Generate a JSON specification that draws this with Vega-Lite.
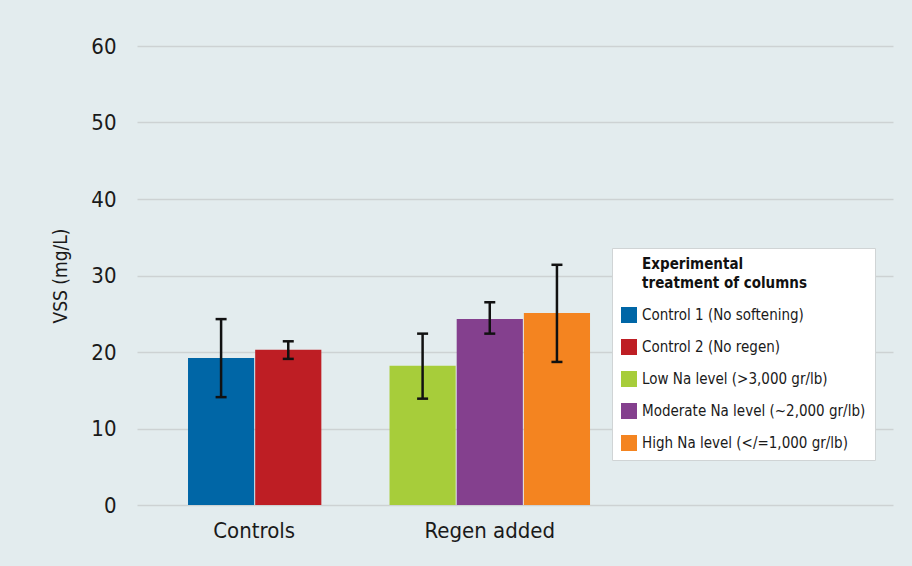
{
  "$schema": "https://vega.github.io/schema/vega-lite/v6.json",
  "width": 756,
  "height": 459,
  "autosize": {"type": "none"},
  "padding": {"left": 137, "top": 46, "right": 19, "bottom": 61},
  "background": "#e3ecee",
  "config": {
    "font": "Liberation Sans Narrow, DejaVu Sans Condensed, Roboto",
    "view": {"stroke": null}
  },
  "datasets": {
    "bars": [
      {"treatment": "Control 1 (No softening)", "group": "Controls", "vss": 19.2, "lo": 14.1, "hi": 24.3},
      {"treatment": "Control 2 (No regen)", "group": "Controls", "vss": 20.3, "lo": 19.1, "hi": 21.4},
      {"treatment": "Low Na level (>3,000 gr/lb)", "group": "Regen added", "vss": 18.2, "lo": 13.9, "hi": 22.4},
      {"treatment": "Moderate Na level (~2,000 gr/lb)", "group": "Regen added", "vss": 24.3, "lo": 22.4, "hi": 26.5},
      {"treatment": "High Na level (</=1,000 gr/lb)", "group": "Regen added", "vss": 25.1, "lo": 18.7, "hi": 31.4}
    ]
  },
  "layer": [
    {
      "data": {"name": "bars"},
      "mark": {"type": "bar"},
      "encoding": {
        "x": {
          "field": "treatment", "type": "nominal",
          "scale": {
            "domain": ["Control 1 (No softening)", "Control 2 (No regen)", "gap", "Low Na level (>3,000 gr/lb)", "Moderate Na level (~2,000 gr/lb)", "High Na level (</=1,000 gr/lb)", "e1", "e2", "e3", "e4"],
            "paddingInner": 0.015, "paddingOuter": 0.635, "align": 0.598
          },
          "axis": null
        },
        "y": {
          "field": "vss", "type": "quantitative",
          "scale": {"domain": [0, 60]},
          "axis": {
            "values": [0, 10, 20, 30, 40, 50, 60],
            "grid": true, "gridColor": "#cdd2d3", "gridWidth": 1.5,
            "domain": false, "ticks": false,
            "labelPadding": 21, "labelFontSize": 22, "labelColor": "#1a1a1a",
            "title": "VSS (mg/L)", "titleFontSize": 19, "titleFontWeight": "normal",
            "titleColor": "#1a1a1a", "titlePadding": 20
          }
        },
        "color": {
          "field": "treatment", "type": "nominal",
          "scale": {
            "domain": ["Control 1 (No softening)", "Control 2 (No regen)", "Low Na level (>3,000 gr/lb)", "Moderate Na level (~2,000 gr/lb)", "High Na level (</=1,000 gr/lb)"],
            "range": ["#0066a6", "#be1e24", "#a7cd3a", "#84408e", "#f48420"]
          },
          "legend": {
            "title": ["\u2800\u2800Experimental", "\u2800\u2800treatment of columns"],
            "orient": "none", "legendX": 475, "legendY": 202,
            "padding": 9, "fillColor": "white", "strokeColor": "#d0d4d5",
            "symbolType": "square", "symbolSize": 256, "symbolStrokeWidth": 0, "symbolOpacity": 1,
            "rowPadding": 16, "titlePadding": 16, "labelOffset": 5,
            "titleFontSize": 15, "titleFontWeight": "bold", "titleLineHeight": 19, "titleColor": "#111111",
            "labelFontSize": 15, "labelColor": "#1a1a1a", "labelLimit": 400, "titleLimit": 400
          }
        }
      }
    },
    {
      "data": {"name": "bars"},
      "mark": {"type": "rule", "color": "#111111", "strokeWidth": 2.5},
      "encoding": {
        "x": {"field": "treatment", "type": "nominal"},
        "y": {"field": "lo", "type": "quantitative"},
        "y2": {"field": "hi"}
      }
    },
    {
      "data": {"name": "bars"},
      "mark": {"type": "tick", "color": "#111111", "thickness": 2.5, "size": 11, "opacity": 1},
      "encoding": {
        "x": {"field": "treatment", "type": "nominal"},
        "y": {"field": "lo", "type": "quantitative"}
      }
    },
    {
      "data": {"name": "bars"},
      "mark": {"type": "tick", "color": "#111111", "thickness": 2.5, "size": 11, "opacity": 1},
      "encoding": {
        "x": {"field": "treatment", "type": "nominal"},
        "y": {"field": "hi", "type": "quantitative"}
      }
    },
    {
      "data": {"values": [{"label": "Controls", "slot": "Control 1 (No softening)"}]},
      "mark": {"type": "text", "fontSize": 22, "color": "#1a1a1a", "baseline": "middle", "dy": 26},
      "encoding": {
        "x": {"field": "slot", "type": "nominal", "bandPosition": 1},
        "y": {"datum": 0, "type": "quantitative"},
        "text": {"field": "label"}
      }
    },
    {
      "data": {"values": [{"label": "Regen added", "slot": "Moderate Na level (~2,000 gr/lb)"}]},
      "mark": {"type": "text", "fontSize": 22, "color": "#1a1a1a", "baseline": "middle", "dy": 26},
      "encoding": {
        "x": {"field": "slot", "type": "nominal", "bandPosition": 0.5},
        "y": {"datum": 0, "type": "quantitative"},
        "text": {"field": "label"}
      }
    }
  ]
}
